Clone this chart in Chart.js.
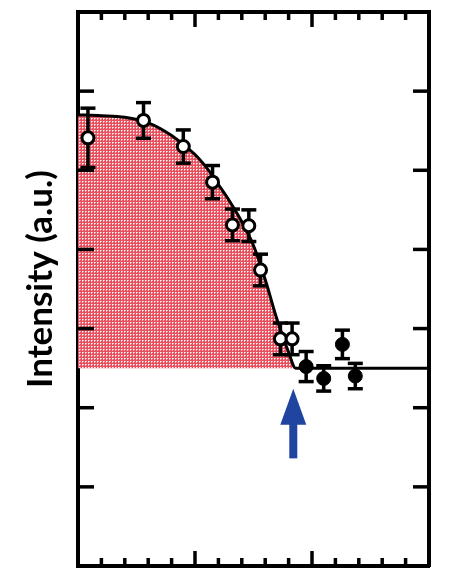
<!DOCTYPE html>
<html>
<head>
<meta charset="utf-8">
<script src="https://cdn.jsdelivr.net/npm/chart.js@4.4.0/dist/chart.umd.min.js"></script>
<style>
  html, body { margin: 0; padding: 0; background: #fff; }
</style>
</head>
<body>
<canvas id="chart" width="459" height="575"></canvas>
<script>
// open symbols: below the transition
const openX = [0.085, 0.56, 0.90, 1.15, 1.32, 1.46, 1.56, 1.73, 1.83];
const openY = [5.41, 5.63, 5.30, 4.85, 4.31, 4.30, 3.74, 2.87, 2.87];
const openErr = [0.375, 0.225, 0.21, 0.21, 0.2, 0.2, 0.2, 0.2, 0.2];

// filled symbols: above the transition
const filledX = [1.95, 2.10, 2.26, 2.37];
const filledY = [2.52, 2.37, 2.80, 2.40];
const filledErr = [0.19, 0.16, 0.18, 0.16];

// guide curve, flat at the background level after the transition
const fitX = [0, 0.2, 0.4, 0.6, 0.8, 1.0, 1.1, 1.2, 1.3, 1.4, 1.5, 1.6, 1.7, 1.8, 1.86, 3.0];
const fitY = [5.7, 5.69, 5.67, 5.6, 5.44, 5.2, 5.03, 4.82, 4.6, 4.35, 4.05, 3.62, 3.12, 2.7, 2.5, 2.5];
const background = 2.5;

// arrow at the transition point
const arrowX = 1.84;
const arrowFrom = 1.36;
const arrowTo = 2.24;

const toPoints = (xs, ys) => xs.map((x, i) => ({ x, y: ys[i] }));

const canvas = document.getElementById("chart");
const ctx = canvas.getContext("2d");

// red hatch with white dots for the area under the curve
function dotPattern() {
  const c = document.createElement("canvas");
  c.width = 3;
  c.height = 3;
  const g = c.getContext("2d");
  g.fillStyle = "#e9505e";
  g.fillRect(0, 0, 3, 3);
  g.fillStyle = "#f6b3ba";
  g.fillRect(2, 1, 1, 1);
  g.fillRect(1, 2, 1, 1);
  g.fillStyle = "#ffffff";
  g.fillRect(1, 1, 1, 1);
  return ctx.createPattern(c, "repeat");
}

function line(c, x1, y1, x2, y2) {
  c.beginPath();
  c.moveTo(x1, y1);
  c.lineTo(x2, y2);
  c.stroke();
}

// vertical error bars, drawn under the markers
const errorBars = {
  id: "errorBars",
  beforeDatasetDraw(chart, args) {
    const ds = chart.data.datasets[args.index];
    if (!ds.errors) return;
    const { ctx: c, scales } = chart;
    c.save();
    c.strokeStyle = "#000";
    c.lineWidth = 3.5;
    ds.data.forEach((p, i) => {
      const px = scales.x.getPixelForValue(p.x);
      const top = scales.y.getPixelForValue(p.y + ds.errors[i]);
      const bot = scales.y.getPixelForValue(p.y - ds.errors[i]);
      line(c, px, top, px, bot);
      line(c, px - 7.5, top, px + 7.5, top);
      line(c, px - 7.5, bot, px + 7.5, bot);
    });
    c.restore();
  },
};

// inward ticks on all four sides
const frameTicks = {
  id: "frameTicks",
  afterDraw(chart) {
    const { ctx: c, chartArea: a, scales } = chart;
    c.save();
    c.strokeStyle = "#000";
    c.lineWidth = 3.5;
    scales.x.ticks.forEach((t) => {
      const px = scales.x.getPixelForValue(t.value);
      if (px <= a.left + 3 || px >= a.right - 3) return;
      const len = Math.abs(t.value - Math.round(t.value)) < 1e-6 ? 15 : 8;
      line(c, px, a.top, px, a.top + len);
      line(c, px, a.bottom, px, a.bottom - len);
    });
    scales.y.ticks.forEach((t) => {
      const py = scales.y.getPixelForValue(t.value);
      if (py <= a.top + 3 || py >= a.bottom - 3) return;
      line(c, a.left, py, a.left + 16, py);
      line(c, a.right, py, a.right - 16, py);
    });
    c.restore();
  },
};

// blue arrow pointing up at the transition
const arrow = {
  id: "arrow",
  afterDatasetsDraw(chart) {
    const { ctx: c, scales } = chart;
    const px = scales.x.getPixelForValue(arrowX);
    const yBase = scales.y.getPixelForValue(arrowFrom);
    const yTip = scales.y.getPixelForValue(arrowTo);
    c.save();
    c.fillStyle = "#1f45a0";
    c.fillRect(px - 4, yTip + 30, 8, yBase - yTip - 30);
    c.beginPath();
    c.moveTo(px, yTip);
    c.lineTo(px + 13, yTip + 36);
    c.lineTo(px - 13, yTip + 36);
    c.closePath();
    c.fill();
    c.restore();
  },
};

// rotated y-axis title
const yTitle = {
  id: "yTitle",
  afterDraw(chart) {
    const c = chart.ctx;
    c.save();
    c.translate(41, 279);
    c.rotate(-Math.PI / 2);
    c.font = "bold 35px Lato";
    c.fillStyle = "#000";
    c.textAlign = "center";
    c.textBaseline = "middle";
    c.fillText("Intensity (a.u.)", 0, 0);
    c.restore();
  },
};

const axisBase = {
  type: "linear",
  grid: { display: false },
  border: { display: true, color: "#000", width: 4 },
};

new Chart(ctx, {
  type: "scatter",
  data: {
    datasets: [
      {
        label: "open",
        data: toPoints(openX, openY),
        errors: openErr,
        pointStyle: "circle",
        pointRadius: 6,
        pointBorderWidth: 3,
        pointBackgroundColor: "#fff",
        pointBorderColor: "#000",
        order: 1,
      },
      {
        label: "filled",
        data: toPoints(filledX, filledY),
        errors: filledErr,
        pointStyle: "circle",
        pointRadius: 7,
        pointBorderWidth: 1,
        pointBackgroundColor: "#000",
        pointBorderColor: "#000",
        order: 1,
      },
      {
        type: "line",
        label: "curve",
        data: toPoints(fitX, fitY),
        borderColor: "#000",
        borderWidth: 3,
        pointRadius: 0,
        cubicInterpolationMode: "monotone",
        fill: { value: background },
        backgroundColor: dotPattern(),
        order: 3,
      },
    ],
  },
  options: {
    responsive: false,
    animation: false,
    layout: { padding: 0 },
    plugins: {
      legend: { display: false },
      tooltip: { enabled: false },
    },
    scales: {
      x: {
        ...axisBase,
        position: "bottom",
        min: 0,
        max: 3,
        ticks: { display: false, stepSize: 0.2 },
        afterFit(s) { s.height = 3; },
      },
      xTop: {
        ...axisBase,
        position: "top",
        min: 0,
        max: 3,
        ticks: { display: false },
        afterFit(s) { s.height = 12; },
      },
      y: {
        ...axisBase,
        position: "left",
        min: 0,
        max: 7,
        ticks: { display: false, stepSize: 1 },
        afterFit(s) { s.width = 78; },
      },
      yRight: {
        ...axisBase,
        position: "right",
        min: 0,
        max: 7,
        ticks: { display: false },
        afterFit(s) { s.width = 30; },
      },
    },
  },
  plugins: [errorBars, frameTicks, arrow, yTitle],
});
</script>
</body>
</html>
